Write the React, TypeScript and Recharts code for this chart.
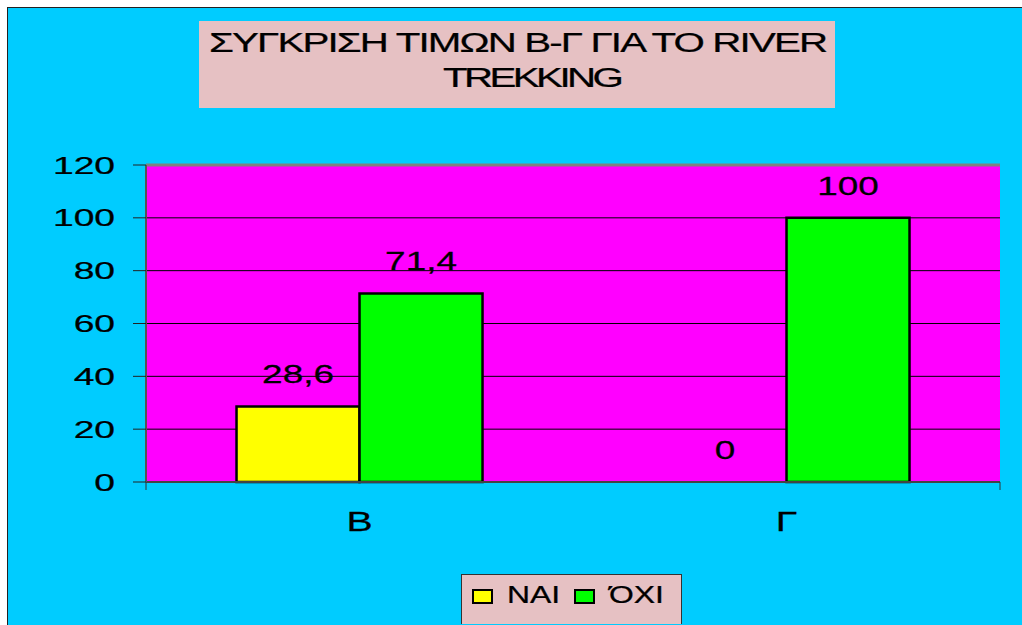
import React from 'react';
import { BarChart, Bar, XAxis, YAxis, CartesianGrid, LabelList, Legend, ReferenceLine, Cell } from 'recharts';

const categories = ['Β', 'Γ'];
const naiValues = [28.6, 0];
const oxiValues = [71.4, 100];
const seriesNames = ['ΝΑΙ', 'ΌΧΙ'];
const yTicks = [0, 20, 40, 60, 80, 100, 120];
const titleLines = ['ΣΥΓΚΡΙΣΗ ΤΙΜΩΝ Β-Γ ΓΙΑ ΤΟ RIVER', 'TREKKING'];

const data = categories.map((c, i) => ({ name: c, nai: naiValues[i], oxi: oxiValues[i] }));

const FONT = '"Liberation Sans", Arial, sans-serif';
const PINK = '#E6C1C3';

function StretchText(props: any) {
  const { x, y, sx, anchor, fontSize, dy, children, letterSpacing } = props;
  return (
    <g transform={`translate(${x},${y}) scale(${sx},1)`}>
      <text
        x={0}
        y={0}
        dy={dy}
        textAnchor={anchor}
        fontSize={fontSize}
        fontFamily={FONT}
        fill="#000"
        stroke="#000"
        strokeWidth={0.25}
        letterSpacing={letterSpacing}
      >
        {children}
      </text>
    </g>
  );
}

const renderYTick = (p: any) => (
  <StretchText x={p.x} y={p.y} sx={1.55} anchor="end" fontSize={24} dy="0.36em">
    {p.payload.value}
  </StretchText>
);

const renderCatTick = (p: any) => (
  <StretchText x={p.x} y={p.y} sx={1.4} anchor="middle" fontSize={28} dy="0.71em">
    {p.payload.value}
  </StretchText>
);

const renderEmptyTick = () => <g />;

const renderLabel = (p: any) => {
  const x = Number(p.x) + Number(p.width) / 2;
  const y = Number(p.y) - 23;
  return (
    <StretchText x={x} y={y} sx={1.42} anchor="middle" fontSize={26}>
      {String(p.value).replace('.', ',')}
    </StretchText>
  );
};

const renderLegend = (props: any) => {
  const payload = props.payload || [];
  return (
    <svg width={221} height={50} style={{ display: 'block' }}>
      <rect x={0.5} y={0.5} width={220} height={50} fill={PINK} stroke="#333" strokeWidth={1} />
      {payload.map((e: any, i: number) => {
        const bx = 12 + i * 102;
        const color = e.color || (e.payload && e.payload.fill);
        return (
          <g key={i}>
            <rect x={bx} y={16} width={19} height={13} fill={color} stroke="#000" strokeWidth={2} />
            <StretchText x={bx + 34} y={29} sx={1.33} anchor="start" fontSize={24}>
              {e.value}
            </StretchText>
          </g>
        );
      })}
    </svg>
  );
};

const minSize = (v: any) => (Number(v) === 0 ? 0.01 : 0);

export default function App() {
  return (
    <div
      style={{
        position: 'absolute',
        left: 7,
        top: 7,
        width: 1015,
        height: 618,
        background: '#00CCFF',
        borderLeft: '1px solid #222',
        borderTop: '1px solid #222',
        boxSizing: 'border-box',
        overflow: 'hidden',
      }}
    >
      <div style={{ position: 'absolute', left: 0, top: 0 }}>
        <BarChart
          width={1014}
          height={617}
          data={data}
          margin={{ top: 157, right: 22, bottom: 73, left: 58 }}
          barCategoryGap="21.2%"
          barGap={0}
        >
          <CartesianGrid xAxisId="bcat" vertical={false} stroke="#000" strokeWidth={1} fill="#FF00FF" fillOpacity={1} />
          <XAxis
            xAxisId="agrid"
            type="number"
            domain={[0, 2]}
            ticks={[0, 1, 2]}
            allowDataOverflow
            tick={renderEmptyTick}
            tickSize={8}
            height={10}
            axisLine={{ stroke: '#444', strokeWidth: 2 }}
            tickLine={{ stroke: '#333', strokeWidth: 1 }}
          />
          <XAxis
            xAxisId="bcat"
            dataKey="name"
            type="category"
            axisLine={false}
            tickLine={false}
            tickSize={6}
            tickMargin={13}
            height={60}
            tick={renderCatTick}
          />
          <YAxis
            domain={[0, 120]}
            ticks={yTicks}
            interval={0}
            width={80}
            tickSize={13}
            tickMargin={18}
            axisLine={{ stroke: '#555', strokeWidth: 2 }}
            tickLine={{ stroke: '#222', strokeWidth: 1 }}
            tick={renderYTick}
          />
          <ReferenceLine xAxisId="bcat" y={120} stroke="#808080" strokeWidth={3} />
          <ReferenceLine xAxisId="agrid" x={2} stroke="#808080" strokeWidth={3} />
          <Legend
            verticalAlign="middle"
            align="center"
            layout="horizontal"
            itemSorter="dataKey"
            wrapperStyle={{ left: 453, top: 566, width: 221, height: 50 }}
            content={renderLegend}
          />
          <Bar xAxisId="bcat" dataKey="nai" name={seriesNames[0]} fill="#FFFF00" stroke="#000" strokeWidth={2.5} minPointSize={minSize} isAnimationActive={false}>
            {naiValues.map((v, i) => (
              <Cell key={i} fill="#FFFF00" stroke={v === 0 ? 'none' : '#000'} />
            ))}
            <LabelList dataKey="nai" content={renderLabel} />
          </Bar>
          <Bar xAxisId="bcat" dataKey="oxi" name={seriesNames[1]} fill="#00FF00" stroke="#000" strokeWidth={2.5} minPointSize={minSize} isAnimationActive={false}>
            {oxiValues.map((v, i) => (
              <Cell key={i} fill="#00FF00" stroke={v === 0 ? 'none' : '#000'} />
            ))}
            <LabelList dataKey="oxi" content={renderLabel} />
          </Bar>
        </BarChart>
      </div>
      <svg
        width={1014}
        height={120}
        style={{ position: 'absolute', left: 0, top: 0, pointerEvents: 'none' }}
      >
        <rect x={191} y={13} width={636} height={87} fill={PINK} />
        <StretchText x={201} y={44} sx={1.44} anchor="start" fontSize={28} letterSpacing={-1.3}>
          {titleLines[0]}
        </StretchText>
        <StretchText x={435} y={79} sx={1.44} anchor="start" fontSize={28} letterSpacing={-2.5}>
          {titleLines[1]}
        </StretchText>
      </svg>
    </div>
  );
}
